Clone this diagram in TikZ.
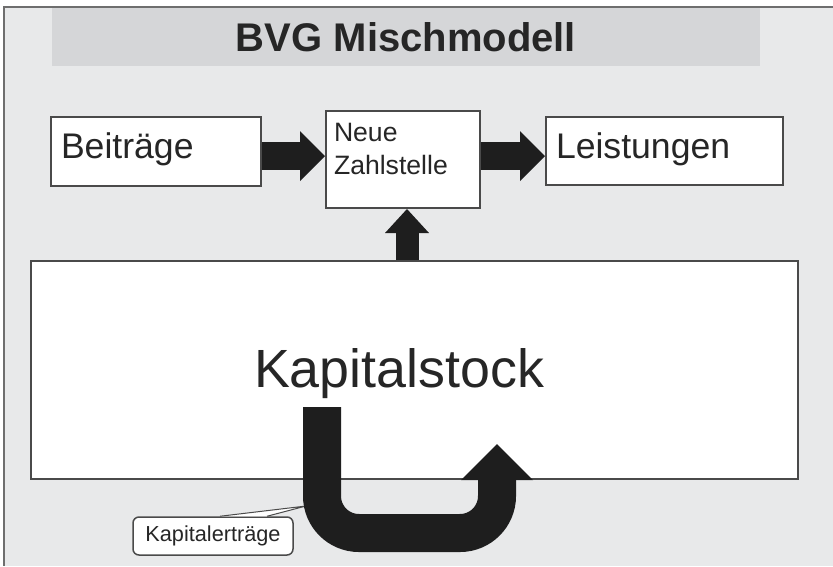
\documentclass[tikz,border=0pt]{standalone}
\usepackage{fontspec}
\setmainfont{Liberation Sans}
\usetikzlibrary{arrows.meta,calc}
\definecolor{bgpanel}{HTML}{E8E9EA}
\definecolor{titleband}{HTML}{D5D6D8}
\definecolor{frameline}{HTML}{6E6E6E}
\definecolor{boxline}{HTML}{4A4A4A}
\definecolor{ink}{HTML}{1E1E1E}
\definecolor{txt}{HTML}{262626}

\begin{document}
\begin{tikzpicture}[x=1pt,y=-1pt,
  box/.style={draw=boxline, line width=2pt, fill=white, text=txt,
    align=left, inner ysep=0pt, anchor=north west},
  flow/.style n args={3}{draw=ink, line width=#1, line cap=butt,
    -{Triangle[width=#2,length=#3,line width=0pt]}},
]
\useasboundingbox (0,0) rectangle (833,566);
\fill[white] (0,0) rectangle (833,566);

% panel with its top and left frame lines
\fill[bgpanel] (4,7) rectangle (833,566);
\draw[frameline, line width=1.5pt] (833,7) -- (4,7) -- (4,566);

% title band
\node[fill=titleband, minimum width=708pt, minimum height=58pt, inner sep=0pt,
      text=txt, font=\fontsize{40}{48}\selectfont\bfseries] (title) at (406,37)
      {BVG Mischmodell};

% boxes
\node[box, text width=190pt, inner xsep=10pt, text height=41pt, text depth=28pt,
      font=\fontsize{35.6}{40}\selectfont] (beit) at (50,116) {Beiträge};
\node[box, text width=138pt, inner xsep=8pt, text height=30pt, text depth=67pt,
      font=\fontsize{26.6}{33}\selectfont] (zs) at (325,110) {Neue\\Zahlstelle};
\node[box, text width=217pt, inner xsep=10pt, text height=41pt, text depth=27pt,
      font=\fontsize{35.6}{40}\selectfont] (leist) at (545,116) {Leistungen};
\node[box, text width=767pt, inner xsep=0pt, text height=126pt, text depth=92pt,
      font=\fontsize{53.8}{60}\selectfont] (kap) at (30,260)
      {\hspace*{223pt}Kapitalstock};

% flows between the boxes
\draw[flow={28pt}{50pt}{25pt}] ([yshift=-4.5pt]beit.east) -- ([yshift=3.5pt]zs.west);
\draw[flow={28pt}{50pt}{25pt}] ([yshift=3.5pt]zs.east) -- ([yshift=-5pt]leist.west);
\draw[flow={23pt}{44pt}{24pt}] ([xshift=4pt]zs.south |- kap.north) -- ([xshift=4pt]zs.south);

% callout for the returns loop
\node[draw=boxline, line width=1.5pt, fill=white, rounded corners=6pt,
      minimum width=160pt, minimum height=38pt, inner sep=0pt, text=txt,
      font=\fontsize{21.7}{26}\selectfont] (kerl) at (213,536) {Kapitalerträge};
\coordinate (ktip) at ($(kap.south)+(-108.5,26)$);
\draw[draw=boxline, line width=1pt, fill=white]
  ([xshift=7pt]kerl.north) -- (ktip) -- ([xshift=54pt]kerl.north);

% returns loop of the capital stock
\draw[flow={38pt}{72pt}{36pt}, rounded corners=37pt]
  ($(kap.south)+(-92.5,-73)$) -- ($(kap.south)+(-92.5,53)$)
  -- ($(kap.south)+(82.5,53)$) -- ($(kap.south)+(82.5,-36)$);
\end{tikzpicture}
\end{document}
